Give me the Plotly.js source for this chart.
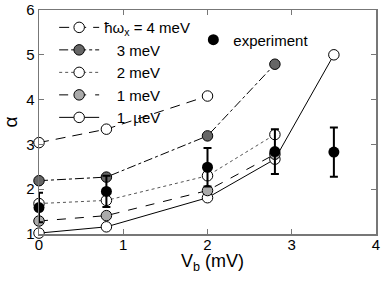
<!DOCTYPE html>
<html>
<head>
<meta charset="utf-8">
<script src="https://cdn.plot.ly/plotly-3.0.1.min.js"></script>
<style>html,body{margin:0;padding:0;background:#fff}#chart{width:381px;height:282px}</style>
</head>
<body>
<div id="chart"></div>
<script>
// Data
const vb4 = [0, 0.8, 2];
const alpha4meV = [3.04, 3.34, 4.08];
const vb3 = [0, 0.8, 2, 2.8];
const alpha3meV = [2.19, 2.27, 3.19, 4.79];
const vb2 = [0, 0.8, 2, 2.8];
const alpha2meV = [1.68, 1.75, 2.30, 3.22];
const vb1 = [0, 0.8, 2, 2.8];
const alpha1meV = [1.29, 1.41, 1.97, 2.78];
const vbu = [0, 0.8, 2, 2.8, 3.5];
const alpha1ueV = [1.02, 1.16, 1.81, 2.67, 5.0];
const vbExp = [0, 0.8, 2, 2.8, 3.5];
const alphaExp = [1.59, 1.95, 2.49, 2.84, 2.83];
const alphaExpErr = [0.33, 0.35, 0.43, 0.5, 0.55];

const legendLabels = [
  "ħω<sub>x</sub> = 4 meV",
  "\u00a0\u00a0\u00a03 meV",
  "\u00a0\u00a0\u00a02 meV",
  "\u00a0\u00a0\u00a01 meV",
  "\u00a0\u00a0\u00a01 \u00a0µeV",
  "experiment"
];
const xTitle = "V<sub>b</sub> (mV)";
const yTitle = "α";

const mk = (color) => ({size: 10.5, color: color, line: {color: "#000", width: 1}});

const traces = [
  {x: vbu, y: alpha1ueV, name: legendLabels[4], mode: "lines+markers", cliponaxis: false,
   line: {color: "#000", width: 1, dash: "solid"}, marker: mk("#fff"), legendrank: 5},
  {x: vb1, y: alpha1meV, name: legendLabels[3], mode: "lines+markers", cliponaxis: false,
   line: {color: "#000", width: 1, dash: "dash"}, marker: mk("#aaaaaa"), legendrank: 4},
  {x: vb2, y: alpha2meV, name: legendLabels[2], mode: "lines+markers", cliponaxis: false,
   line: {color: "#555", width: 1, dash: "dot"}, marker: mk("#fff"), legendrank: 3},
  {x: vb3, y: alpha3meV, name: legendLabels[1], mode: "lines+markers", cliponaxis: false,
   line: {color: "#000", width: 1, dash: "dashdot"}, marker: mk("#666666"), legendrank: 2},
  {x: vb4, y: alpha4meV, name: legendLabels[0], mode: "lines+markers", cliponaxis: false,
   line: {color: "#000", width: 1, dash: "10px,7px"}, marker: mk("#fff"), legendrank: 1},
  {x: vbExp, y: alphaExp, name: legendLabels[5], mode: "markers", cliponaxis: false,
   marker: {size: 11, color: "#000"},
   error_y: {type: "data", array: alphaExpErr, visible: true, color: "#000", thickness: 2, width: 4},
   legend: "legend2"}
];

const axisCommon = {
  showline: true, linecolor: "#777", linewidth: 1.5, mirror: "ticks",
  ticks: "inside", ticklen: 5, tickcolor: "#777", showgrid: false, zeroline: false,
  tickfont: {family: "Liberation Sans, Arial, sans-serif", size: 15, color: "#000"}
};

const layout = {
  width: 381, height: 282,
  margin: {l: 39, r: 5, t: 10, b: 48},
  paper_bgcolor: "#fff", plot_bgcolor: "#fff",
  font: {family: "Liberation Sans, Arial, sans-serif", color: "#000"},
  xaxis: Object.assign({}, axisCommon, {
    range: [0, 4], tickvals: [0, 1, 2, 3, 4], ticktext: ["0", "1", "2", "3", "4"],
    ticklabelstandoff: -4,
    title: {text: ""}
  }),
  yaxis: Object.assign({}, axisCommon, {
    range: [1, 6], tickvals: [1, 2, 3, 4, 5, 6], ticktext: ["1", "2", "3", "4", "5", "6"],
    title: {text: yTitle, font: {size: 19}, standoff: 10}
  }),
  annotations: [
    {text: xTitle, xref: "paper", yref: "paper", x: 0.516, y: -0.068,
     xanchor: "center", yanchor: "top", showarrow: false, font: {size: 18}}
  ],
  showlegend: true,
  legend: {x: 0.045, y: 0.995, xanchor: "left", yanchor: "top", bgcolor: "rgba(0,0,0,0)",
           font: {size: 15}, traceorder: "normal", tracegroupgap: 0, itemwidth: 40},
  legend2: {x: 0.458, y: 0.94, xanchor: "left", yanchor: "top", bgcolor: "rgba(0,0,0,0)",
           font: {size: 15}}
};

Plotly.newPlot("chart", traces, layout, {displayModeBar: false, staticPlot: true});
</script>
</body>
</html>
